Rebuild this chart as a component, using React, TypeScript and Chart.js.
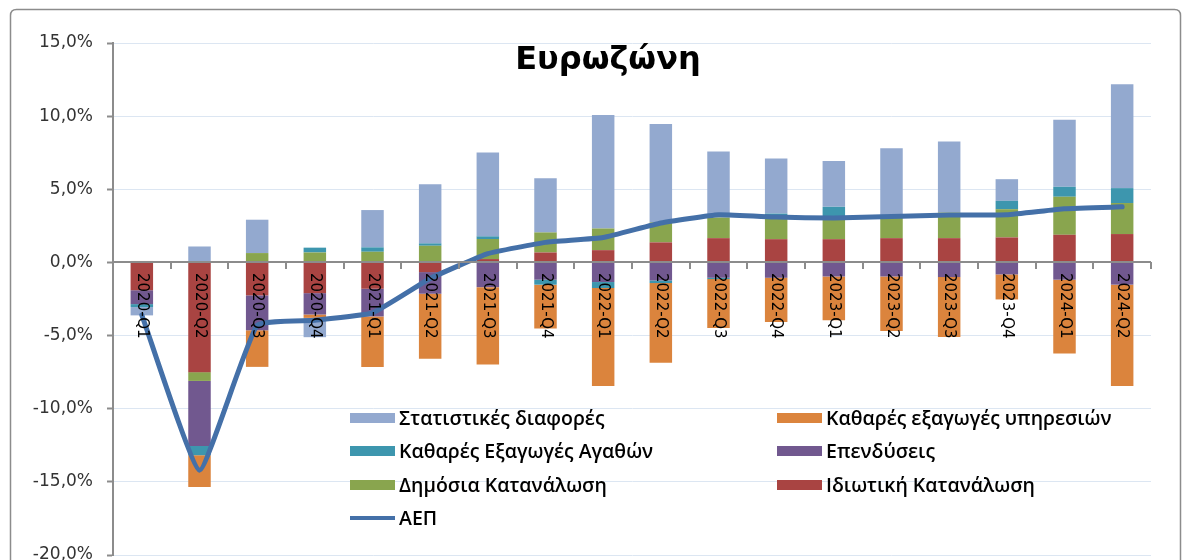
import React, { useEffect, useRef } from 'react';
import { Chart, registerables } from 'chart.js';

Chart.register(...registerables);

const categories = [
  '2020-Q1', '2020-Q2', '2020-Q3', '2020-Q4',
  '2021-Q1', '2021-Q2', '2021-Q3', '2021-Q4',
  '2022-Q1', '2022-Q2', '2022-Q3', '2022-Q4',
  '2023-Q1', '2023-Q2', '2023-Q3', '2023-Q4',
  '2024-Q1', '2024-Q2',
];

const privateConsumption = [-1.9, -7.5, -2.25, -2.1, -1.8, -0.66, 0.23, 0.68, 0.84, 1.37, 1.66, 1.59, 1.59, 1.66, 1.66, 1.71, 1.89, 1.94];
const publicConsumption = [0, -0.6, 0.64, 0.68, 0.73, 1.14, 1.37, 1.37, 1.48, 1.37, 1.41, 1.48, 1.55, 1.41, 1.75, 1.93, 2.6, 2.12];
const investment = [-0.95, -4.45, -2.39, -1.46, -1.89, -1.48, -1.69, -1.18, -1.34, -1.23, -1.05, -1.05, -0.96, -0.96, -1.0, -0.82, -1.18, -1.52];
const goodsExports = [-0.2, -0.63, 0, 0.33, 0.3, 0.16, 0.18, -0.34, -0.41, -0.18, -0.09, 0.27, 0.66, 0, 0, 0.57, 0.68, 1.02];
const servicesExports = [0.1, -2.17, -2.5, -0.23, -3.46, -4.44, -5.28, -3.0, -6.69, -5.44, -3.35, -3.03, -3.0, -3.73, -4.1, -1.71, -5.05, -6.92];
const statDiscrepancy = [-0.57, 1.09, 2.28, -1.32, 2.55, 4.05, 5.74, 3.71, 7.76, 6.72, 4.51, 3.76, 3.14, 4.74, 4.85, 1.48, 4.58, 7.1];
const gdp = [-3.6, -14.2, -4.3, -3.95, -3.45, -1.1, 0.6, 1.37, 1.7, 2.7, 3.26, 3.1, 3.03, 3.14, 3.24, 3.26, 3.67, 3.8];

const yMin = -20;
const yMax = 15;
const yStep = 5;

const titleText = 'Ευρωζώνη';

const COLORS = {
  private: '#A94442',
  public: '#89A54E',
  investment: '#71588F',
  goods: '#3D96AE',
  services: '#DB843D',
  stat: '#93A9CF',
  gdp: '#4470A8',
  axis: '#8c8c8c',
};

const framePlugin = {
  id: 'frame',
  beforeDraw(chart: any) {
    const { ctx, width, height } = chart;
    ctx.save();
    ctx.fillStyle = '#ffffff';
    ctx.fillRect(0, 0, width, height);
    ctx.strokeStyle = COLORS.axis;
    ctx.lineWidth = 1.5;
    const x = 10.5, y = 9.5, w = 1170, h = height + 20, r = 6;
    ctx.beginPath();
    ctx.moveTo(x + r, y);
    ctx.lineTo(x + w - r, y);
    ctx.quadraticCurveTo(x + w, y, x + w, y + r);
    ctx.lineTo(x + w, y + h);
    ctx.lineTo(x, y + h);
    ctx.lineTo(x, y + r);
    ctx.quadraticCurveTo(x, y, x + r, y);
    ctx.stroke();
    ctx.restore();
  },
};

const overlayPlugin = {
  id: 'overlay',
  afterDatasetsDraw(chart: any) {
    const { ctx, scales, chartArea } = chart;
    const xs = scales.x;
    const ys = scales.y;
    const y0 = Math.round(ys.getPixelForValue(0));

    // zero axis with tick marks between categories
    ctx.save();
    ctx.strokeStyle = COLORS.axis;
    ctx.lineWidth = 2;
    ctx.beginPath();
    ctx.moveTo(chartArea.left, y0);
    ctx.lineTo(chartArea.right, y0);
    const bounds: number[] = [];
    for (let i = 1; i < categories.length; i++) {
      bounds.push((xs.getPixelForValue(i - 1) + xs.getPixelForValue(i)) / 2);
    }
    bounds.push(chartArea.right);
    bounds.forEach((bx) => {
      const px = Math.round(bx);
      ctx.moveTo(px, y0);
      ctx.lineTo(px, y0 + 7);
    });
    ctx.stroke();
    ctx.restore();

    // category labels, rotated clockwise, hanging below the zero axis
    ctx.save();
    ctx.fillStyle = '#000000';
    ctx.font = '15px "DejaVu Sans"';
    ctx.textAlign = 'left';
    ctx.textBaseline = 'middle';
    categories.forEach((lab, i) => {
      const px = xs.getPixelForValue(i);
      ctx.save();
      ctx.translate(px, y0 + 11);
      ctx.rotate(Math.PI / 2);
      ctx.fillText(lab, 0, 0);
      ctx.restore();
    });
    ctx.restore();
  },
  afterDraw(chart: any) {
    const { ctx } = chart;
    ctx.save();
    ctx.fillStyle = '#000000';
    ctx.font = 'bold 32px "DejaVu Sans"';
    ctx.textAlign = 'center';
    ctx.textBaseline = 'middle';
    ctx.fillText(titleText, 608, 61);

    const ds = chart.data.datasets;
    const bars = ds.filter((d: any) => d.type !== 'line').slice().reverse();
    const line = ds.find((d: any) => d.type === 'line');
    const items = [...bars, line];
    const colX = [350, 777];
    const rowY = [418, 451, 485, 518];
    ctx.font = '600 19.5px "Open Sans"';
    ctx.textAlign = 'left';
    items.forEach((d: any, k: number) => {
      const col = k % 2;
      const row = Math.floor(k / 2);
      const sx = colX[col];
      const sy = rowY[row];
      if (d.type === 'line') {
        ctx.strokeStyle = d.borderColor;
        ctx.lineWidth = 4;
        ctx.beginPath();
        ctx.moveTo(sx, sy);
        ctx.lineTo(sx + 45, sy);
        ctx.stroke();
      } else {
        ctx.fillStyle = d.backgroundColor;
        ctx.fillRect(sx, sy - 5, 45, 10);
      }
      ctx.fillStyle = '#000000';
      ctx.fillText(d.label, sx + 49, sy + 1);
    });
    ctx.restore();
  },
};

export default function App() {
  const canvasRef = useRef<HTMLCanvasElement | null>(null);

  useEffect(() => {
    const canvas = canvasRef.current;
    if (!canvas) return;
    const barCommon = {
      type: 'bar' as const,
      stack: 'components',
      categoryPercentage: 1,
      barPercentage: 0.39,
      borderWidth: 0,
      order: 1,
    };
    const chart = new Chart(canvas, {
      type: 'bar',
      data: {
        labels: categories,
        datasets: [
          { ...barCommon, label: 'Ιδιωτική Κατανάλωση', data: privateConsumption, backgroundColor: COLORS.private },
          { ...barCommon, label: 'Δημόσια Κατανάλωση', data: publicConsumption, backgroundColor: COLORS.public },
          { ...barCommon, label: 'Επενδύσεις', data: investment, backgroundColor: COLORS.investment },
          { ...barCommon, label: 'Καθαρές Εξαγωγές Αγαθών', data: goodsExports, backgroundColor: COLORS.goods },
          { ...barCommon, label: 'Καθαρές εξαγωγές υπηρεσιών', data: servicesExports, backgroundColor: COLORS.services },
          { ...barCommon, label: 'Στατιστικές διαφορές', data: statDiscrepancy, backgroundColor: COLORS.stat },
          {
            type: 'line' as const,
            label: 'ΑΕΠ',
            data: gdp,
            stack: 'gdp',
            borderColor: COLORS.gdp,
            backgroundColor: COLORS.gdp,
            borderWidth: 5,
            pointRadius: 0,
            tension: 0.12,
            borderCapStyle: 'round',
            borderJoinStyle: 'round',
            fill: false,
            order: 0,
          } as any,
        ],
      },
      options: {
        responsive: false,
        animation: false,
        devicePixelRatio: 1,
        layout: { padding: { left: 10, top: 43, right: 38, bottom: 5 } },
        plugins: {
          legend: { display: false },
          title: { display: false },
          tooltip: { enabled: false },
        },
        scales: {
          x: {
            type: 'category',
            stacked: true,
            position: { y: 0 } as any,
            offset: true,
            afterFit: (s: any) => {
              s.paddingTop = 0;
              s.paddingBottom = 0;
              s.paddingLeft = 0;
              s.paddingRight = 0;
            },
            grid: { display: false },
            border: { display: false },
            ticks: { display: false },
          },
          y: {
            type: 'linear',
            stacked: true,
            min: yMin,
            max: yMax,
            afterFit: (s: any) => {
              s.width = 103;
              s.paddingTop = 0;
              s.paddingBottom = 0;
            },
            ticks: {
              stepSize: yStep,
              padding: 14,
              color: '#333333',
              font: { family: '"DejaVu Sans"', size: 17 },
              callback: (v: any) => Number(v).toFixed(1).replace('.', ',') + '%',
            },
            grid: {
              color: '#DCE6F2',
              lineWidth: 1,
              drawTicks: true,
              tickLength: 6,
              tickColor: COLORS.axis,
              tickWidth: 2,
            },
            border: { display: true, color: COLORS.axis, width: 2 },
          },
        },
      },
      plugins: [framePlugin, overlayPlugin],
    });
    return () => chart.destroy();
  }, []);

  return (
    <div style={{ position: 'absolute', left: 0, top: 0, width: 1189, height: 560, background: '#fff' }}>
      <canvas ref={canvasRef} width={1189} height={560} style={{ display: 'block' }} />
    </div>
  );
}
